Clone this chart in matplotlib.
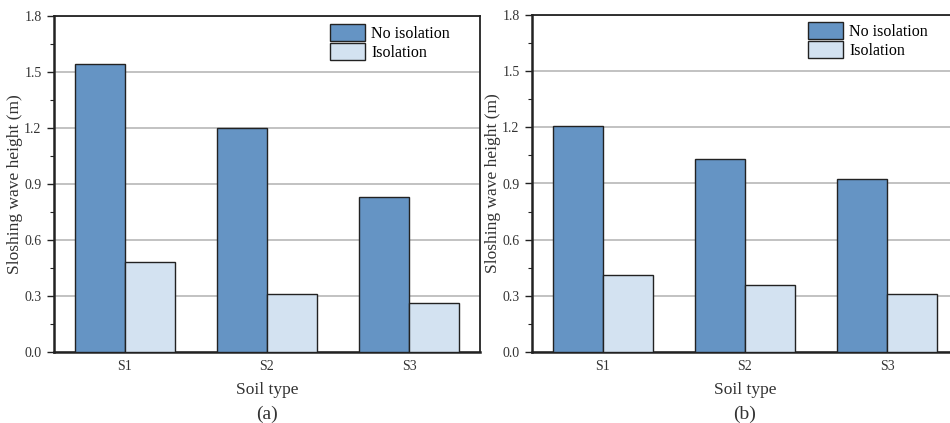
import matplotlib.pyplot as plt
import numpy as np
from matplotlib.ticker import MultipleLocator

plt.rcParams['font.family'] = ['Liberation Serif', 'DejaVu Serif']

soil_types = ['S1', 'S2', 'S3']
no_isolation_a = [1.545, 1.20, 0.83]
isolation_a = [0.48, 0.31, 0.26]
no_isolation_b = [1.205, 1.03, 0.925]
isolation_b = [0.41, 0.36, 0.31]
panel_tags = ['(a)', '(b)']

col_dark = '#6594c4'
col_light = '#d3e2f1'

fig = plt.figure(figsize=(9.5, 4.23), dpi=100)
ax_a = fig.add_axes([54 / 950, 71 / 423, 426 / 950, 336 / 423])
# right panel runs past the edge of the figure
ax_b = fig.add_axes([532 / 950, 71 / 423, 426 / 950, 337 / 423])

x = np.arange(len(soil_types))
w = 0.35
legend_anchor = [(0.929, 0.977), (0.929, 0.980)]

for ax, noi, iso, tag, anchor in zip([ax_a, ax_b], [no_isolation_a, no_isolation_b],
                                     [isolation_a, isolation_b], panel_tags, legend_anchor):
    ax.bar(x - w / 2, noi, w, color=col_dark, edgecolor='#222222', linewidth=1.0,
           label='No isolation', zorder=3)
    ax.bar(x + w / 2, iso, w, color=col_light, edgecolor='#222222', linewidth=1.0,
           label='Isolation', zorder=3)
    ax.set_xlim(-0.5, 2.5)
    ax.set_ylim(0, 1.8)
    ax.yaxis.set_major_locator(MultipleLocator(0.3))
    ax.yaxis.set_minor_locator(MultipleLocator(0.15))
    ax.yaxis.set_major_formatter(plt.FormatStrFormatter('%.1f'))
    ax.set_xticks(x)
    ax.set_xticklabels(soil_types)
    ax.grid(axis='y', color='#b8b8b8', linewidth=1.2, zorder=0)
    ax.tick_params(axis='y', which='major', direction='out', length=5, width=1,
                   pad=4, labelsize=10, colors='#222222', labelcolor='#333333')
    ax.tick_params(axis='y', which='minor', direction='out', length=3, width=0.8,
                   colors='#222222')
    ax.tick_params(axis='x', length=0, pad=6, labelsize=10, labelcolor='#333333')
    for side in ['left', 'bottom']:
        ax.spines[side].set_linewidth(1.8)
        ax.spines[side].set_color('#222222')
    for side in ['top', 'right']:
        ax.spines[side].set_linewidth(1.3)
        ax.spines[side].set_color('#222222')
    ax.set_ylabel('Sloshing wave height (m)', fontsize=12.5, color='#333333', labelpad=1)
    ax.set_xlabel('Soil type', fontsize=12.5, color='#333333', labelpad=6)
    ax.text(0.5, -0.16, tag, transform=ax.transAxes, ha='center', va='top',
            fontsize=14, color='#333333')
    ax.legend(loc='upper right', bbox_to_anchor=anchor, frameon=False, fontsize=11.5,
              handlelength=2.2, handleheight=1.3, handletextpad=0.35,
              labelspacing=0.08, borderaxespad=0, borderpad=0)

fig.savefig('out.png', dpi=100)
